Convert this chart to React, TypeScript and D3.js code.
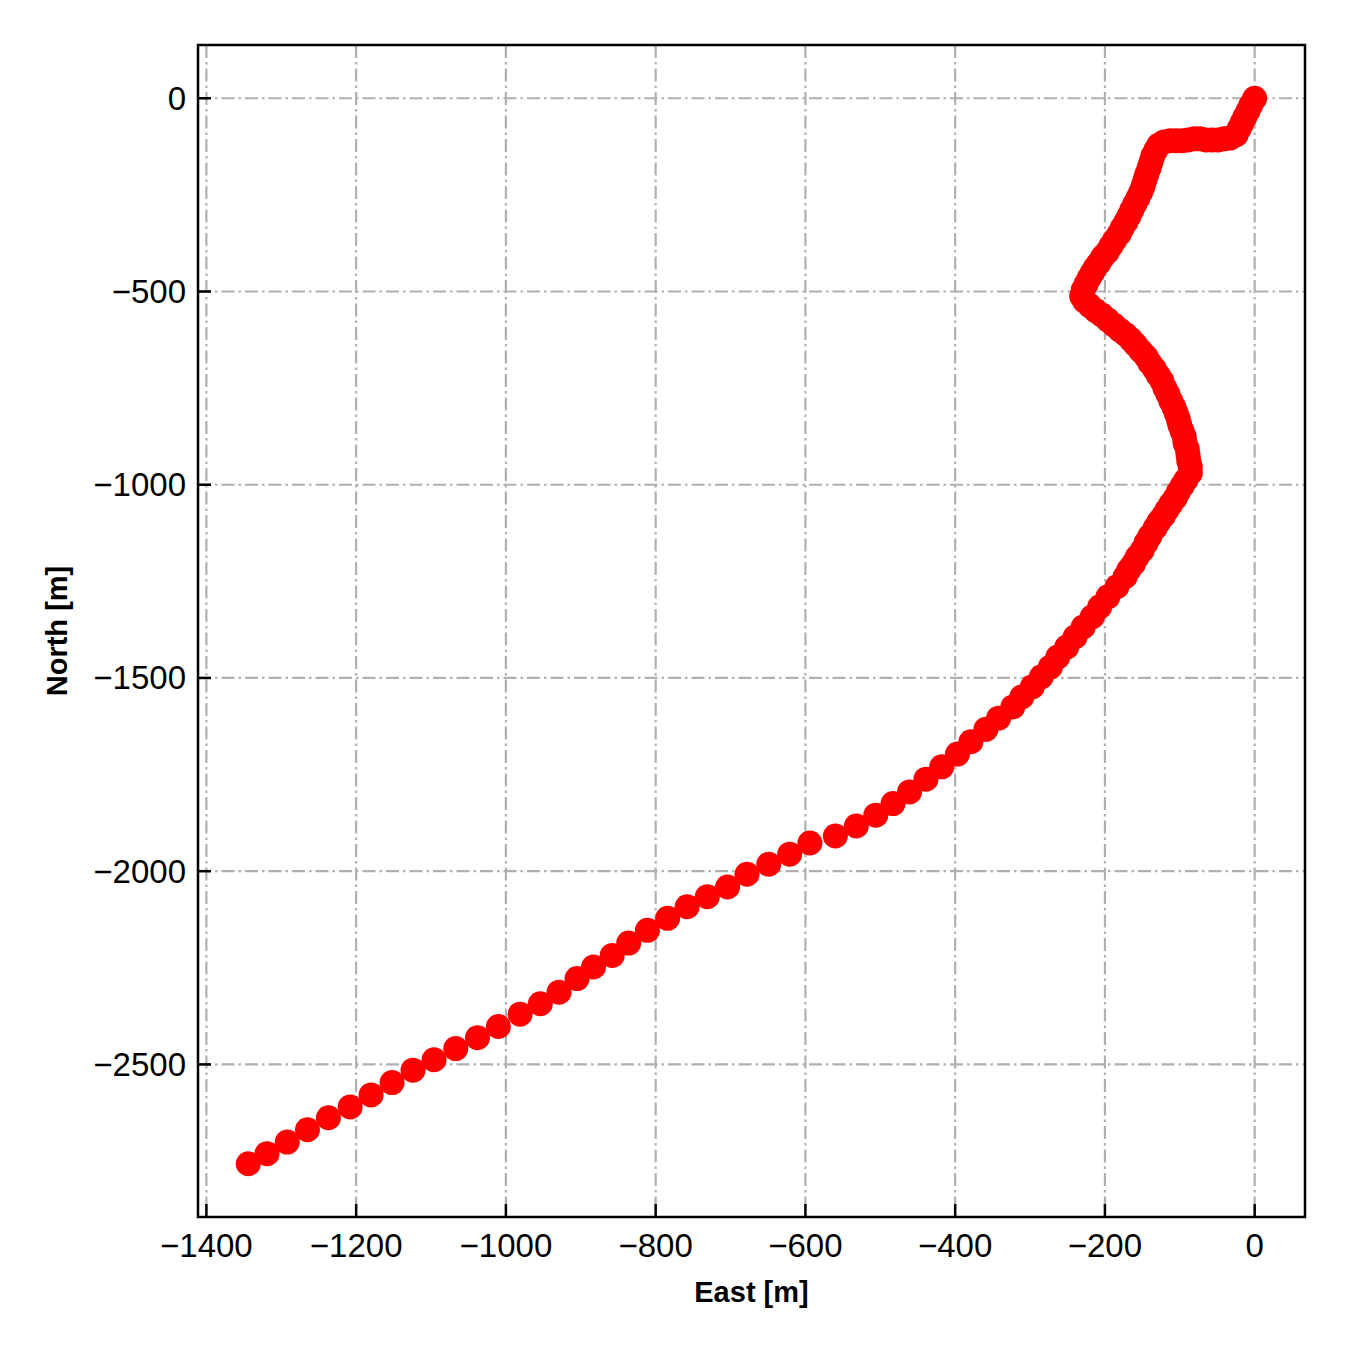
import React from "react";
import * as d3 from "d3";

const east: number[] = [
  0, -5, -9, -13, -17, -21, -25,
  -33, -41, -49, -57, -65, -73, -81, -89, -97, -105, -113, -121, -128, -132,
  -136, -138.5, -141, -144, -146.5, -149, -152, -156, -160, -164, -168, -172, -177, -181, -187, -192, -197, -203, -208, -213, -217, -221, -225, -229, -231,
  -227, -220, -212, -204, -196, -188, -180, -172, -165, -159, -152, -145, -140, -134, -129, -124, -120, -116, -112, -108, -105, -102, -100, -97, -94, -93, -90, -89, -88, -86, -86,
  -92, -97, -102, -106, -112, -117, -122, -128, -133, -140, -145, -150, -157, -162, -168,
  -173, -184, -196, -207, -217, -229, -240, -251, -263, -273, -285, -297, -311, -323,
  -342, -359, -379, -397, -418, -439,
  -461, -483, -506, -532, -560, -594, -621, -649, -678, -704, -731, -758, -784, -811, -836, -858,
  -883, -905, -929, -954, -981, -1010, -1038, -1067, -1096, -1124, -1152, -1180, -1208, -1237,
  -1265, -1292, -1319, -1344,
];

const north: number[] = [
  0, -17, -33, -48, -64, -80, -95,
  -103, -105, -108, -108, -108, -105, -105, -108, -110, -110, -110, -113, -121, -134,
  -149, -165, -180, -196, -211, -227, -242, -258, -273, -289, -305, -320, -336, -351, -367, -382, -398, -411, -426, -439, -452, -465, -480, -496, -512,
  -525, -537, -550, -561, -574, -587, -600, -612, -625, -638, -654, -669, -685, -700, -716, -731, -749, -765, -783, -799, -814, -830, -845, -861, -876, -892, -907, -923, -938, -954, -970,
  -988, -1003, -1019, -1034, -1050, -1065, -1081, -1096, -1112, -1133, -1150, -1169, -1187, -1205, -1220,
  -1238, -1264, -1290, -1316, -1342, -1368, -1394, -1420, -1446, -1472, -1497, -1523, -1549, -1575,
  -1604, -1633, -1665, -1697, -1730, -1762,
  -1795, -1825, -1855, -1883, -1909, -1927, -1956, -1982, -2008, -2041, -2066, -2092, -2122, -2153, -2186, -2218,
  -2248, -2278, -2313, -2343, -2370, -2402, -2431, -2459, -2488, -2515, -2547, -2579, -2610, -2638,
  -2669, -2701, -2731, -2757,
];

const xTicks: number[] = [-1400, -1200, -1000, -800, -600, -400, -200, 0];
const yTicks: number[] = [0, -500, -1000, -1500, -2000, -2500];

const W = 1350;
const H = 1350;
const L = 198;
const R = 1305;
const T = 45;
const B = 1217;

function fmt(v: number): string {
  return v < 0 ? "\u2212" + Math.abs(v) : String(v);
}

export default function App() {
  const [xmin, xmax] = d3.extent(east) as [number, number];
  const [ymin, ymax] = d3.extent(north) as [number, number];
  const mx = (xmax - xmin) * 0.05;
  const my = (ymax - ymin) * 0.05;
  const x = d3.scaleLinear().domain([xmin - mx, xmax + mx]).range([L, R]);
  const y = d3.scaleLinear().domain([ymin - my, ymax + my]).range([B, T]);
  const font = "'Liberation Sans', Arial, sans-serif";
  const grid = "#b0b0b0";
  const dash = "13,4,2.5,4";
  return (
    <svg
      width={W}
      height={H}
      style={{ position: "absolute", left: 0, top: 0, background: "#fff" }}
      fontFamily={font}
    >
      <rect x={0} y={0} width={W} height={H} fill="#fff" />
      <g>
        {xTicks.map((t) => (
          <line key={"gx" + t} x1={x(t)} x2={x(t)} y1={T} y2={B} stroke={grid} strokeWidth={2.2} strokeDasharray={dash} />
        ))}
        {yTicks.map((t) => (
          <line key={"gy" + t} x1={L} x2={R} y1={y(t)} y2={y(t)} stroke={grid} strokeWidth={2.2} strokeDasharray={dash} />
        ))}
      </g>
      <g fill="#ff0000">
        {east.map((e, i) => (
          <circle key={i} cx={x(e)} cy={y(north[i])} r={12.5} />
        ))}
      </g>
      <g stroke="#000" strokeWidth={2.5}>
        {xTicks.map((t) => (
          <line key={"tx" + t} x1={x(t)} x2={x(t)} y1={B} y2={B - 13} />
        ))}
        {yTicks.map((t) => (
          <line key={"ty" + t} x1={L} x2={L + 13} y1={y(t)} y2={y(t)} />
        ))}
      </g>
      <rect x={L} y={T} width={R - L} height={B - T} fill="none" stroke="#000" strokeWidth={2.5} />
      <g fontSize={33} fill="#000">
        {xTicks.map((t) => (
          <text key={"lx" + t} x={x(t)} y={1257} textAnchor="middle">
            {fmt(t)}
          </text>
        ))}
        {yTicks.map((t) => (
          <text key={"ly" + t} x={186} y={y(t)} textAnchor="end" dominantBaseline="central">
            {fmt(t)}
          </text>
        ))}
      </g>
      <text x={(L + R) / 2} y={1302} textAnchor="middle" fontSize={29} fontWeight="bold">
        East [m]
      </text>
      <text
        transform={`translate(67,${(T + B) / 2}) rotate(-90)`}
        textAnchor="middle"
        fontSize={29}
        fontWeight="bold"
      >
        North [m]
      </text>
    </svg>
  );
}
